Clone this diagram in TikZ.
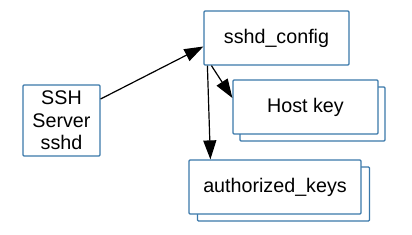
\documentclass[tikz,border=0pt]{standalone}
\usepackage{fontspec}
\setmainfont{Liberation Sans}
\usetikzlibrary{arrows.meta}
\definecolor{boxblue}{HTML}{3A78AA}
\tikzset{
  box/.style={draw=boxblue, line width=1.2pt, fill=white, rounded corners=1pt, inner sep=0pt, font=\fontsize{19.7}{22.5}\selectfont},
  conn/.style={line width=1.2pt, -{Triangle[length=19pt,width=13pt]}}
}
\begin{document}
\begin{tikzpicture}[x=1pt,y=-1pt]
\useasboundingbox (0,0) rectangle (412,235);
% SSH server
\node[box, minimum width=77pt, minimum height=71pt, align=center] (ssh) at (61.5,120.5) {SSH\\Server\\sshd};
% sshd_config
\node[box, minimum width=145pt, minimum height=54pt] (cfg) at (276.5,38) {sshd\_config};
% Host key (stacked)
\node[box, minimum width=145pt, minimum height=54pt] (hkback) at (312.5,114) {};
\node[box, minimum width=145pt, minimum height=54pt] (hk) at (305.5,107) {Host key};
% authorized_keys (stacked)
\node[box, minimum width=172pt, minimum height=54pt] (akback) at (283.5,194) {};
\node[box, minimum width=172pt, minimum height=54pt] (ak) at (275,187) {authorized\_keys};
% connector end points
\coordinate (s1) at (ssh.east |- 0,99);
\coordinate (e1) at (cfg.west |- 0,46.5);
\coordinate (s2) at ([xshift=8pt]cfg.south west);
\coordinate (e2) at (hk.west |- 0,98);
\coordinate (s3) at ([xshift=4pt]cfg.south west);
\coordinate (e3) at ([xshift=22pt]ak.north west);
% connectors
\draw[conn] (s1) -- (e1);
\draw[conn] (s2) -- (e2);
\draw[conn] (s3) -- (e3);
\end{tikzpicture}
\end{document}
